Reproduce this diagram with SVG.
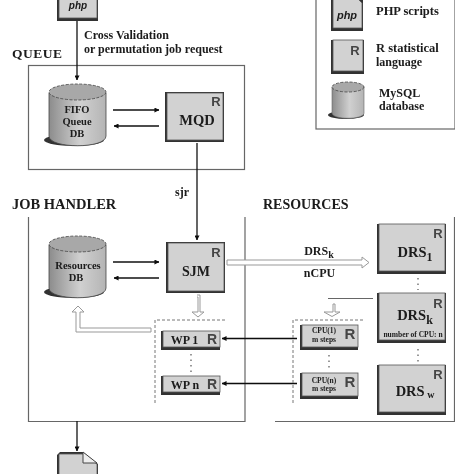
<svg xmlns="http://www.w3.org/2000/svg" width="474" height="474" viewBox="0 0 474 474">
<style>
text{font-family:"Liberation Serif",serif;font-weight:bold;fill:#1a1a1a}
.r{font-family:"Liberation Sans",sans-serif;fill:#444;text-anchor:middle}
.p{font-family:"Liberation Sans",sans-serif;font-style:italic;text-anchor:middle}
.c{text-anchor:middle}
.frame{fill:none;stroke:#666;stroke-width:1.2}
.box{fill:#d2d2d2;stroke:#555;stroke-width:.8}
.shadow{fill:#333}
.wire{fill:none;stroke:#111;stroke-width:1.3}
.hollow{fill:#fff;stroke:#999;stroke-width:1}
.dash{fill:none;stroke:#777;stroke-width:1;stroke-dasharray:3 2}
.dots{fill:none;stroke:#555;stroke-width:1.2;stroke-dasharray:1.500 4}
.top{fill:#a8a8a8;stroke:#444;stroke-width:.8;stroke-dasharray:3 1.500}
</style>
<defs>
<marker id="a" viewBox="0 0 6 6" refX="5.500" refY="3" markerWidth="5" markerHeight="5" markerUnits="userSpaceOnUse" orient="auto"><path d="M0 0L6 3L0 6Z" fill="#111"/></marker>
<linearGradient id="g"><stop offset="0" stop-color="#8c8c8c"/><stop offset=".55" stop-color="#d0d0d0"/><stop offset="1" stop-color="#b4b4b4"/></linearGradient>
<filter id="soft" x="0" y="0" width="100%" height="100%"><feGaussianBlur stdDeviation="0.35"/></filter>
</defs>
<rect width="474" height="474" fill="#fff"/>
<g filter="url(#soft)">
<g id="frames">
<rect class="frame" x="28.500" y="65.500" width="216" height="104"/>
<path class="frame" d="M28.500 217V421.500H245V217"/>
<path class="frame" d="M275 421.500H454.500V217"/>
<rect class="frame" x="316" y="-5" width="139" height="134"/>
</g>
<g id="labels">
<text x="12" y="58" font-size="13.500" letter-spacing=".5">QUEUE</text>
<text x="12" y="209" font-size="14.500">JOB HANDLER</text>
<text x="263" y="209" font-size="14">RESOURCES</text>
<text x="84" y="39" font-size="12">Cross Validation</text>
<text x="84" y="53" font-size="12">or permutation job request</text>
<text x="182" y="196" font-size="12" class="c">sjr</text>
<text x="319" y="255" font-size="12" class="c">DRS<tspan font-size="10" dy="3">k</tspan></text>
<text x="319.500" y="277" font-size="12" class="c">nCPU</text>
</g>
<g id="connectors">
<path class="wire" d="M77 21V80" marker-end="url(#a)"/>
<path class="wire" d="M113 110H159" marker-end="url(#a)"/>
<path class="wire" d="M159 126H114" marker-end="url(#a)"/>
<path class="wire" d="M197 143V240" marker-end="url(#a)"/>
<path class="wire" d="M113 262H159" marker-end="url(#a)"/>
<path class="wire" d="M159 278H114" marker-end="url(#a)"/>
<path class="wire" d="M297 338.500H222" marker-end="url(#a)"/>
<path class="wire" d="M297 383.500H222" marker-end="url(#a)"/>
<path class="wire" d="M77 421V451" marker-end="url(#a)"/>
<path class="frame" d="M328 298.500H373"/>
<path class="hollow" d="M227 260H362V257L369 262.500L362 268V265H227Z"/>
<path class="hollow" d="M197 295H200V312H204L198 317L192 312H198V297H197"/>
<path class="hollow" d="M151 328V332H76V312H72L78 306L84 312H80V328Z"/>
<path class="hollow" d="M333 304H335V312H340L332 316.500L324 312H333Z"/>
<path class="dots" d="M191 354V372"/>
<path class="dots" d="M329 355V370"/>
<path class="dots" d="M418 278V290"/>
<path class="dots" d="M418 349V362"/>
<path class="dash" d="M155 403V320H227"/>
<path class="dash" d="M293 403V320H365"/>
</g>
<g id="php-top">
<rect class="shadow" x="57" y="-5" width="41" height="26"/>
<rect class="box" x="59" y="-5" width="38" height="23"/>
<text x="78" y="9" font-size="10" class="p">php</text>
</g>
<g id="fifo-db">
<ellipse class="shadow" cx="74" cy="140" rx="30" ry="6"/>
<path d="M49 93V136C49 149 106 149 106 136V93Z" fill="url(#g)" stroke="#444" stroke-width=".8"/>
<ellipse class="top" cx="77.500" cy="92" rx="28.500" ry="8"/>
<text x="77" y="113" font-size="10.500" class="c">FIFO</text>
<text x="77" y="125" font-size="10.500" class="c">Queue</text>
<text x="77" y="137" font-size="10.500" class="c">DB</text>
</g>
<g id="mqd">
<rect class="shadow" x="165" y="92" width="59" height="50"/>
<rect class="box" x="167" y="93" width="56" height="47"/>
<text class="r" x="216" y="106" font-size="13">R</text>
<text x="197" y="125" font-size="14.500" class="c">MQD</text>
</g>
<g id="resources-db">
<ellipse class="shadow" cx="74" cy="292" rx="30" ry="6"/>
<path d="M49 245V288C49 301 106 301 106 288V245Z" fill="url(#g)" stroke="#444" stroke-width=".8"/>
<ellipse class="top" cx="77.500" cy="244" rx="28.500" ry="8"/>
<text x="78" y="269" font-size="10.500" class="c">Resources</text>
<text x="76" y="281" font-size="10.500" class="c">DB</text>
</g>
<g id="sjm">
<rect class="shadow" x="166" y="242" width="59" height="51"/>
<rect class="box" x="168" y="243" width="56" height="48"/>
<text class="r" x="216" y="257" font-size="13">R</text>
<text x="196" y="276" font-size="14" class="c">SJM</text>
</g>
<g id="wp1">
<rect class="shadow" x="161" y="331" width="59" height="19"/>
<rect class="box" x="163" y="331" width="57" height="16" stroke="none"/>
<text x="184.500" y="344" font-size="12" class="c">WP 1</text>
<text class="r" x="212" y="344" font-size="14">R</text>
</g>
<g id="wpn">
<rect class="shadow" x="161" y="376" width="59" height="19"/>
<rect class="box" x="163" y="376" width="57" height="16" stroke="none"/>
<text x="185" y="389" font-size="12" class="c">WP n</text>
<text class="r" x="212" y="389" font-size="14">R</text>
</g>
<g id="cpu1">
<rect class="shadow" x="300" y="325" width="58" height="25"/>
<rect class="box" x="302" y="325" width="56" height="22" stroke="none"/>
<text x="324" y="333" font-size="7.500" class="c">CPU(1)</text>
<text x="324" y="342" font-size="7.500" class="c">m steps</text>
<text class="r" x="350" y="339" font-size="15">R</text>
</g>
<g id="cpun">
<rect class="shadow" x="300" y="373" width="58" height="26"/>
<rect class="box" x="302" y="373" width="56" height="23" stroke="none"/>
<text x="324" y="383" font-size="7.500" class="c">CPU(n)</text>
<text x="324" y="391" font-size="7.500" class="c">m steps</text>
<text class="r" x="350" y="387" font-size="15">R</text>
</g>
<g id="drs1">
<rect class="shadow" x="377" y="224" width="69" height="50"/>
<rect class="box" x="379" y="224" width="66" height="47"/>
<text class="r" x="438" y="238" font-size="13">R</text>
<text x="415" y="257" font-size="14.500" class="c">DRS<tspan font-size="12" dy="4">1</tspan></text>
</g>
<g id="drsk">
<rect class="shadow" x="377" y="293" width="69" height="50"/>
<rect class="box" x="379" y="293" width="66" height="47"/>
<text class="r" x="438" y="308" font-size="13">R</text>
<text x="415" y="320" font-size="14.500" class="c">DRS<tspan font-size="12" dy="4">k</tspan></text>
<text x="413" y="337" font-size="7.500" class="c">number of CPU: n</text>
</g>
<g id="drsw">
<rect class="shadow" x="377" y="365" width="69" height="50"/>
<rect class="box" x="379" y="365" width="66" height="47"/>
<text class="r" x="438" y="379" font-size="13">R</text>
<text x="415" y="396" font-size="14.500" class="c">DRS<tspan font-size="10" dy="2"> w</tspan></text>
</g>
<g id="php-bottom">
<path class="shadow" d="M57 480V455L60 452H83L98 464V480Z"/>
<path class="box" d="M59 480V454H83L97 464V480Z"/>
<path d="M83 452V463H97Z" fill="#eee" stroke="#444"/>
</g>
<g id="legend-php">
<path class="shadow" d="M331 -5V31H363V-5Z"/>
<path class="box" d="M333 -5V28H362V3L354 -5Z"/>
<text x="347" y="19" font-size="11" class="p">php</text>
<text x="376" y="15" font-size="12.500">PHP scripts</text>
</g>
<g id="legend-r">
<rect class="shadow" x="331" y="40" width="33" height="34"/>
<rect class="box" x="333" y="40" width="30" height="31"/>
<text class="r" x="355" y="55" font-size="13">R</text>
<text x="376" y="52" font-size="12.500">R statistical</text>
<text x="376" y="66" font-size="12">language</text>
</g>
<g id="legend-mysql">
<ellipse class="shadow" cx="346" cy="115" rx="18" ry="4"/>
<path d="M332 87V113C332 120 364 120 364 113V87Z" fill="url(#g)" stroke="#666" stroke-width=".6"/>
<ellipse class="top" cx="348" cy="87" rx="16" ry="5"/>
<text x="379" y="97" font-size="12">MySQL</text>
<text x="379" y="110" font-size="12">database</text>
</g>
</g>
</svg>
